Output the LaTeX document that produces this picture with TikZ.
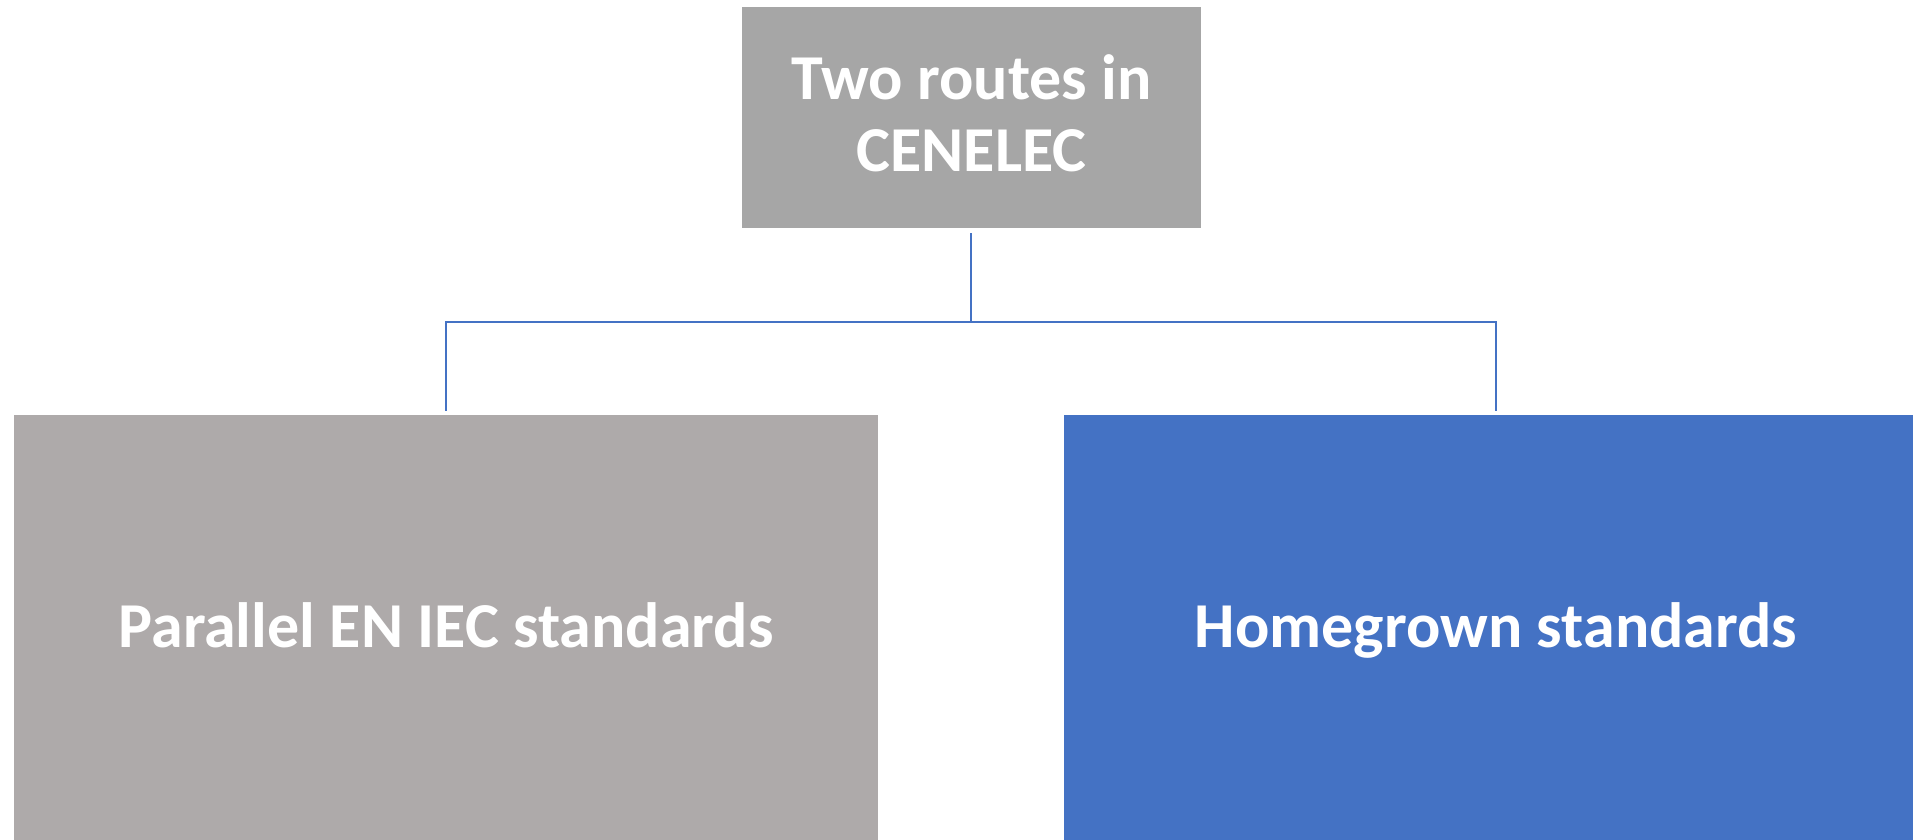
\documentclass[tikz,border=0pt]{standalone}
\usepackage{fontspec}
\setmainfont{Carlito}
\definecolor{topgray}{HTML}{A6A6A6}
\definecolor{leftgray}{HTML}{AEAAAA}
\definecolor{rightblue}{HTML}{4472C4}
\definecolor{linkblue}{HTML}{4472C4}
\tikzset{
  boxtext/.style={text=white, font=\fontsize{64}{72}\selectfont\bfseries, align=center, inner sep=0pt},
  link/.style={draw=linkblue, line width=2.4pt},
}
\begin{document}
\begin{tikzpicture}[x=1pt,y=-1pt]
\useasboundingbox (0,0) rectangle (1913,839);
\begin{scope}
\clip (0,0) rectangle (1913,839);
\fill[topgray] (742,7) rectangle (1201,228);
\fill[leftgray] (14,415) rectangle (878,860);
\fill[rightblue] (1064,415) rectangle (1930,860);
\end{scope}
\node[boxtext] (top) at (971.5,113) {Two routes in\\CENELEC};
\node[boxtext, anchor=base] (left) at (446,647) {Parallel EN IEC standards};
\node[boxtext, anchor=base] (right) at (1496,647) {Homegrown standards};
\coordinate (tb) at (971,233);
\coordinate (lt) at (446,411);
\coordinate (rt) at (1496,411);
\draw[link] (tb) -- (tb |- 0,322) -| (lt);
\draw[link] (tb |- 0,322) -| (rt);
\end{tikzpicture}
\end{document}
